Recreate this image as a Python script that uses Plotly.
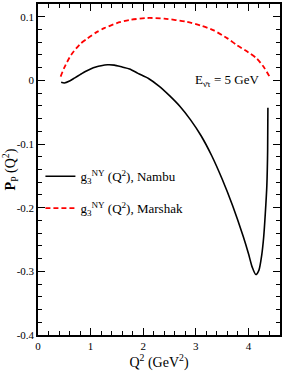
import plotly.graph_objects as go

q2_nambu = [0.44, 0.5, 0.6, 0.7, 0.8, 0.9, 1.0, 1.1, 1.2, 1.32, 1.45, 1.6, 1.74, 1.9, 2.1,
            2.3, 2.5, 2.7, 2.9, 3.1, 3.3, 3.5, 3.7, 3.9, 4.0, 4.07, 4.14, 4.2, 4.25, 4.29,
            4.32, 4.35, 4.365, 4.37]
p_nambu = [-0.003, -0.004, -0.001, 0.004, 0.009, 0.014, 0.018, 0.021, 0.023, 0.0245, 0.024,
           0.021, 0.018, 0.011, 0.003, -0.009, -0.024, -0.041, -0.062, -0.087, -0.118, -0.155,
           -0.197, -0.245, -0.272, -0.293, -0.305, -0.298, -0.276, -0.246, -0.210, -0.165,
           -0.110, -0.043]

q2_marshak = [0.43, 0.5, 0.63, 0.8, 0.94, 1.1, 1.26, 1.5, 1.75, 2.08, 2.4, 2.83, 3.1, 3.33,
              3.6, 3.77, 4.0, 4.15, 4.3, 4.4]
p_marshak = [0.006, 0.020, 0.040, 0.057, 0.066, 0.075, 0.082, 0.090, 0.095, 0.098, 0.097,
             0.092, 0.086, 0.079, 0.066, 0.056, 0.044, 0.035, 0.020, 0.006]

x_ticks = [0, 1, 2, 3, 4]
y_ticks = [0.1, 0, -0.1, -0.2, -0.3, -0.4]
y_ticklabels = ["0.1", "0", "-0.1", "-0.2", "-0.3", "-0.4"]

FONT = "Liberation Serif"

fig = go.Figure()
fig.add_trace(go.Scatter(
    x=q2_nambu, y=p_nambu, mode="lines", legendgroup="a",
    line=dict(color="black", width=1.6, shape="spline", smoothing=0.7),
    name="g<sub>3</sub><sup>NY</sup> (Q<sup>2</sup>), Nambu"))
fig.add_trace(go.Scatter(
    x=q2_marshak, y=p_marshak, mode="lines", legendgroup="b",
    line=dict(color="#ff0000", width=1.8, dash="5px,3px", shape="spline", smoothing=0.7),
    name="g<sub>3</sub><sup>NY</sup> (Q<sup>2</sup>), Marshak"))

axis_common = dict(
    showline=True, linecolor="black", linewidth=1.5, mirror="allticks",
    ticks="inside", tickcolor="black", showgrid=False, zeroline=False,
    tickfont=dict(family=FONT, size=11, color="black"),
)

fig.update_xaxes(
    range=[0, 4.6], tickvals=x_ticks, ticklen=7, tickwidth=1.2,
    minor=dict(dtick=0.2, tick0=0, ticklen=4, ticks="inside", tickcolor="black", tickwidth=1),
    title=dict(text="Q<sup>2</sup> (GeV<sup>2</sup>)", font=dict(family=FONT, size=14, color="black"),
               standoff=4),
    **axis_common)
fig.update_yaxes(
    range=[-0.4, 0.12], tickvals=y_ticks, ticktext=y_ticklabels, ticklen=7, tickwidth=1.2,
    minor=dict(dtick=0.02, tick0=0, ticklen=4, ticks="inside", tickcolor="black", tickwidth=1),
    title=dict(text="<b>P</b><sub>P</sub> (Q<sup>2</sup>)", font=dict(family=FONT, size=14, color="black"),
               standoff=2),
    **axis_common)

fig.add_annotation(
    x=3.6, y=0.0, xref="x", yref="y", showarrow=False,
    text="E<sub>ν̄τ</sub> = 5 GeV", font=dict(family=FONT, size=13, color="black"))

fig.update_layout(
    width=284, height=382,
    margin=dict(l=38, r=2, t=2, b=47),
    paper_bgcolor="white", plot_bgcolor="white",
    showlegend=True,
    legend=dict(x=0.01, y=0.525, xanchor="left", yanchor="top",
                bgcolor="rgba(0,0,0,0)", borderwidth=0,
                font=dict(family=FONT, size=13, color="black"),
                itemwidth=30, tracegroupgap=12, traceorder="grouped"),
)

fig.write_html("out.html", config={"displayModeBar": False},
               post_script="document.body.style.margin='0px';")
